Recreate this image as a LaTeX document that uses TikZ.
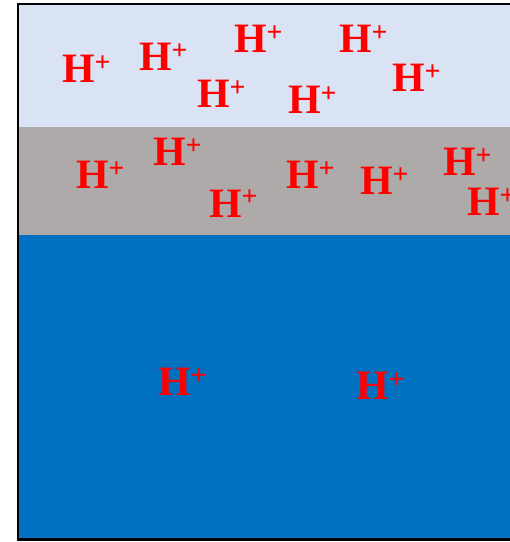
\documentclass[tikz,border=0pt]{standalone}
\usepackage{fontspec}
\setmainfont{Liberation Serif}
\definecolor{lightband}{HTML}{DAE3F3}
\definecolor{greyband}{HTML}{AEAAAA}
\definecolor{blueband}{HTML}{0070C0}
\definecolor{ionred}{HTML}{FF0000}
% proton symbol: bold H with a raised plus
\newcommand\Hion{H\raisebox{11bp}{\fontsize{28}{28}\selectfont +}}
\begin{document}
\begin{tikzpicture}[x=1bp,y=-1bp,
  ion/.style={anchor=base west, inner sep=0pt, outer sep=0pt, text=ionred,
    font=\fontsize{42}{42}\selectfont\bfseries}]
\useasboundingbox (0,0) rectangle (510,542);
\begin{scope}
  \clip (0,0) rectangle (510,542);
  \fill[lightband] (18,4) rectangle (520,127);
  \fill[greyband] (18,127) rectangle (520,235);
  \fill[blueband] (18,235) rectangle (520,540);
  \draw[line width=2.4bp] (18,3.8) rectangle (520,539.5);
\end{scope}
% top layer
\node[ion] (h1) at (62,83) {\Hion};
\node[ion] (h2) at (139,71) {\Hion};
\node[ion] (h3) at (234,53) {\Hion};
\node[ion] (h4) at (339,53) {\Hion};
\node[ion] (h5) at (197,108) {\Hion};
\node[ion] (h6) at (288,114) {\Hion};
\node[ion] (h7) at (392,92) {\Hion};
% middle layer
\node[ion] (h8) at (76,189) {\Hion};
\node[ion] (h9) at (153,166) {\Hion};
\node[ion] (h10) at (209,217) {\Hion};
\node[ion] (h11) at (286,189) {\Hion};
\node[ion] (h12) at (360,195) {\Hion};
\node[ion] (h13) at (443,176) {\Hion};
\node[ion] (h14) at (467,216) {\Hion};
% bottom layer
\node[ion] (h15) at (158,395) {\Hion};
\node[ion] (h16) at (356,399) {\Hion};
\end{tikzpicture}
\end{document}
